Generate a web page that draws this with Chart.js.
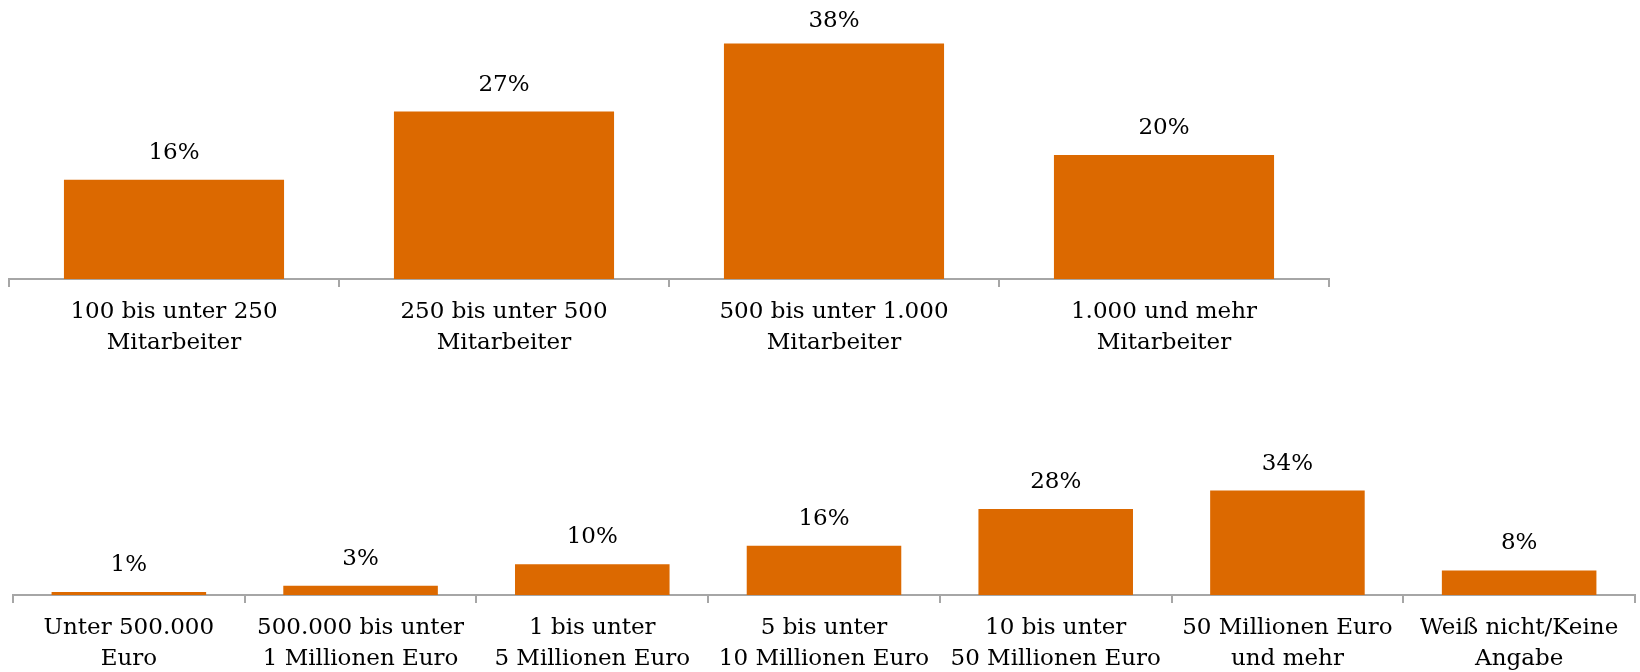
<!DOCTYPE html>
<html>
<head>
<meta charset="utf-8">
<script src="https://cdn.jsdelivr.net/npm/chart.js@4/dist/chart.umd.min.js"></script>
<style>
  html, body { margin: 0; padding: 0; background: #fff; }
  body { width: 1640px; height: 672px; position: relative; overflow: hidden; }
  .box { position: absolute; left: 0; width: 1640px; }
  #top { top: 0; height: 360px; }
  #bottom { top: 380px; height: 292px; }
</style>
</head>
<body>
<div class="box" id="top"><canvas id="staffChart"></canvas></div>
<div class="box" id="bottom"><canvas id="revenueChart"></canvas></div>
<script>
const staffLabels = [
    ["100 bis unter 250", "Mitarbeiter"],
    ["250 bis unter 500", "Mitarbeiter"],
    ["500 bis unter 1.000", "Mitarbeiter"],
    ["1.000 und mehr", "Mitarbeiter"]
];
const staffValues = [16, 27, 38, 20];

const revenueLabels = [
    ["Unter 500.000", "Euro"],
    ["500.000 bis unter", "1 Millionen Euro"],
    ["1 bis unter", "5 Millionen Euro"],
    ["5 bis unter", "10 Millionen Euro"],
    ["10 bis unter", "50 Millionen Euro"],
    ["50 Millionen Euro", "und mehr"],
    ["Weiß nicht/Keine", "Angabe"]
];
const revenueValues = [1, 3, 10, 16, 28, 34, 8];

const ORANGE = "#dc6900";
const AXIS = "#a6a6a6";
const FONT = { family: "'DejaVu Serif', serif", size: 23, lineHeight: 1.33 };

// draws "xx%" above every bar
const valueLabels = {
    id: "valueLabels",
    afterDatasetsDraw(chart) {
        const ctx = chart.ctx;
        const meta = chart.getDatasetMeta(0);
        ctx.save();
        ctx.font = FONT.size + "px " + FONT.family;
        ctx.fillStyle = "#000";
        ctx.textAlign = "center";
        ctx.textBaseline = "middle";
        meta.data.forEach((bar, i) => {
            const v = chart.data.datasets[0].data[i];
            const y = Math.max(bar.y - 27, 21);
            ctx.fillText(v + "%", bar.x, y);
        });
        ctx.restore();
    }
};

function makeChart(id, labels, values, yMax, xHeight, padding) {
    new Chart(document.getElementById(id), {
        type: "bar",
        data: {
            labels: labels,
            datasets: [{
                data: values,
                backgroundColor: ORANGE,
                barPercentage: 0.667,
                categoryPercentage: 1
            }]
        },
        options: {
            responsive: true,
            maintainAspectRatio: false,
            animation: false,
            layout: { padding: padding },
            plugins: {
                legend: { display: false },
                tooltip: { enabled: false }
            },
            scales: {
                x: {
                    afterFit: (scale) => { scale.height = xHeight; },
                    border: { display: true, color: AXIS, width: 2 },
                    grid: {
                        offset: true,
                        drawOnChartArea: false,
                        drawTicks: true,
                        tickLength: 8,
                        color: AXIS,
                        lineWidth: 2
                    },
                    ticks: {
                        color: "#000",
                        font: FONT,
                        padding: 10,
                        maxRotation: 0,
                        autoSkip: false
                    }
                },
                y: {
                    display: false,
                    min: 0,
                    max: yMax
                }
            }
        },
        plugins: [valueLabels]
    });
}

makeChart("staffChart", staffLabels, staffValues, 45, 81, { left: 9, right: 311, top: 0, bottom: 0 });
makeChart("revenueChart", revenueLabels, revenueValues, 70, 77, { left: 13, right: 5, top: 0, bottom: 0 });
</script>
</body>
</html>
